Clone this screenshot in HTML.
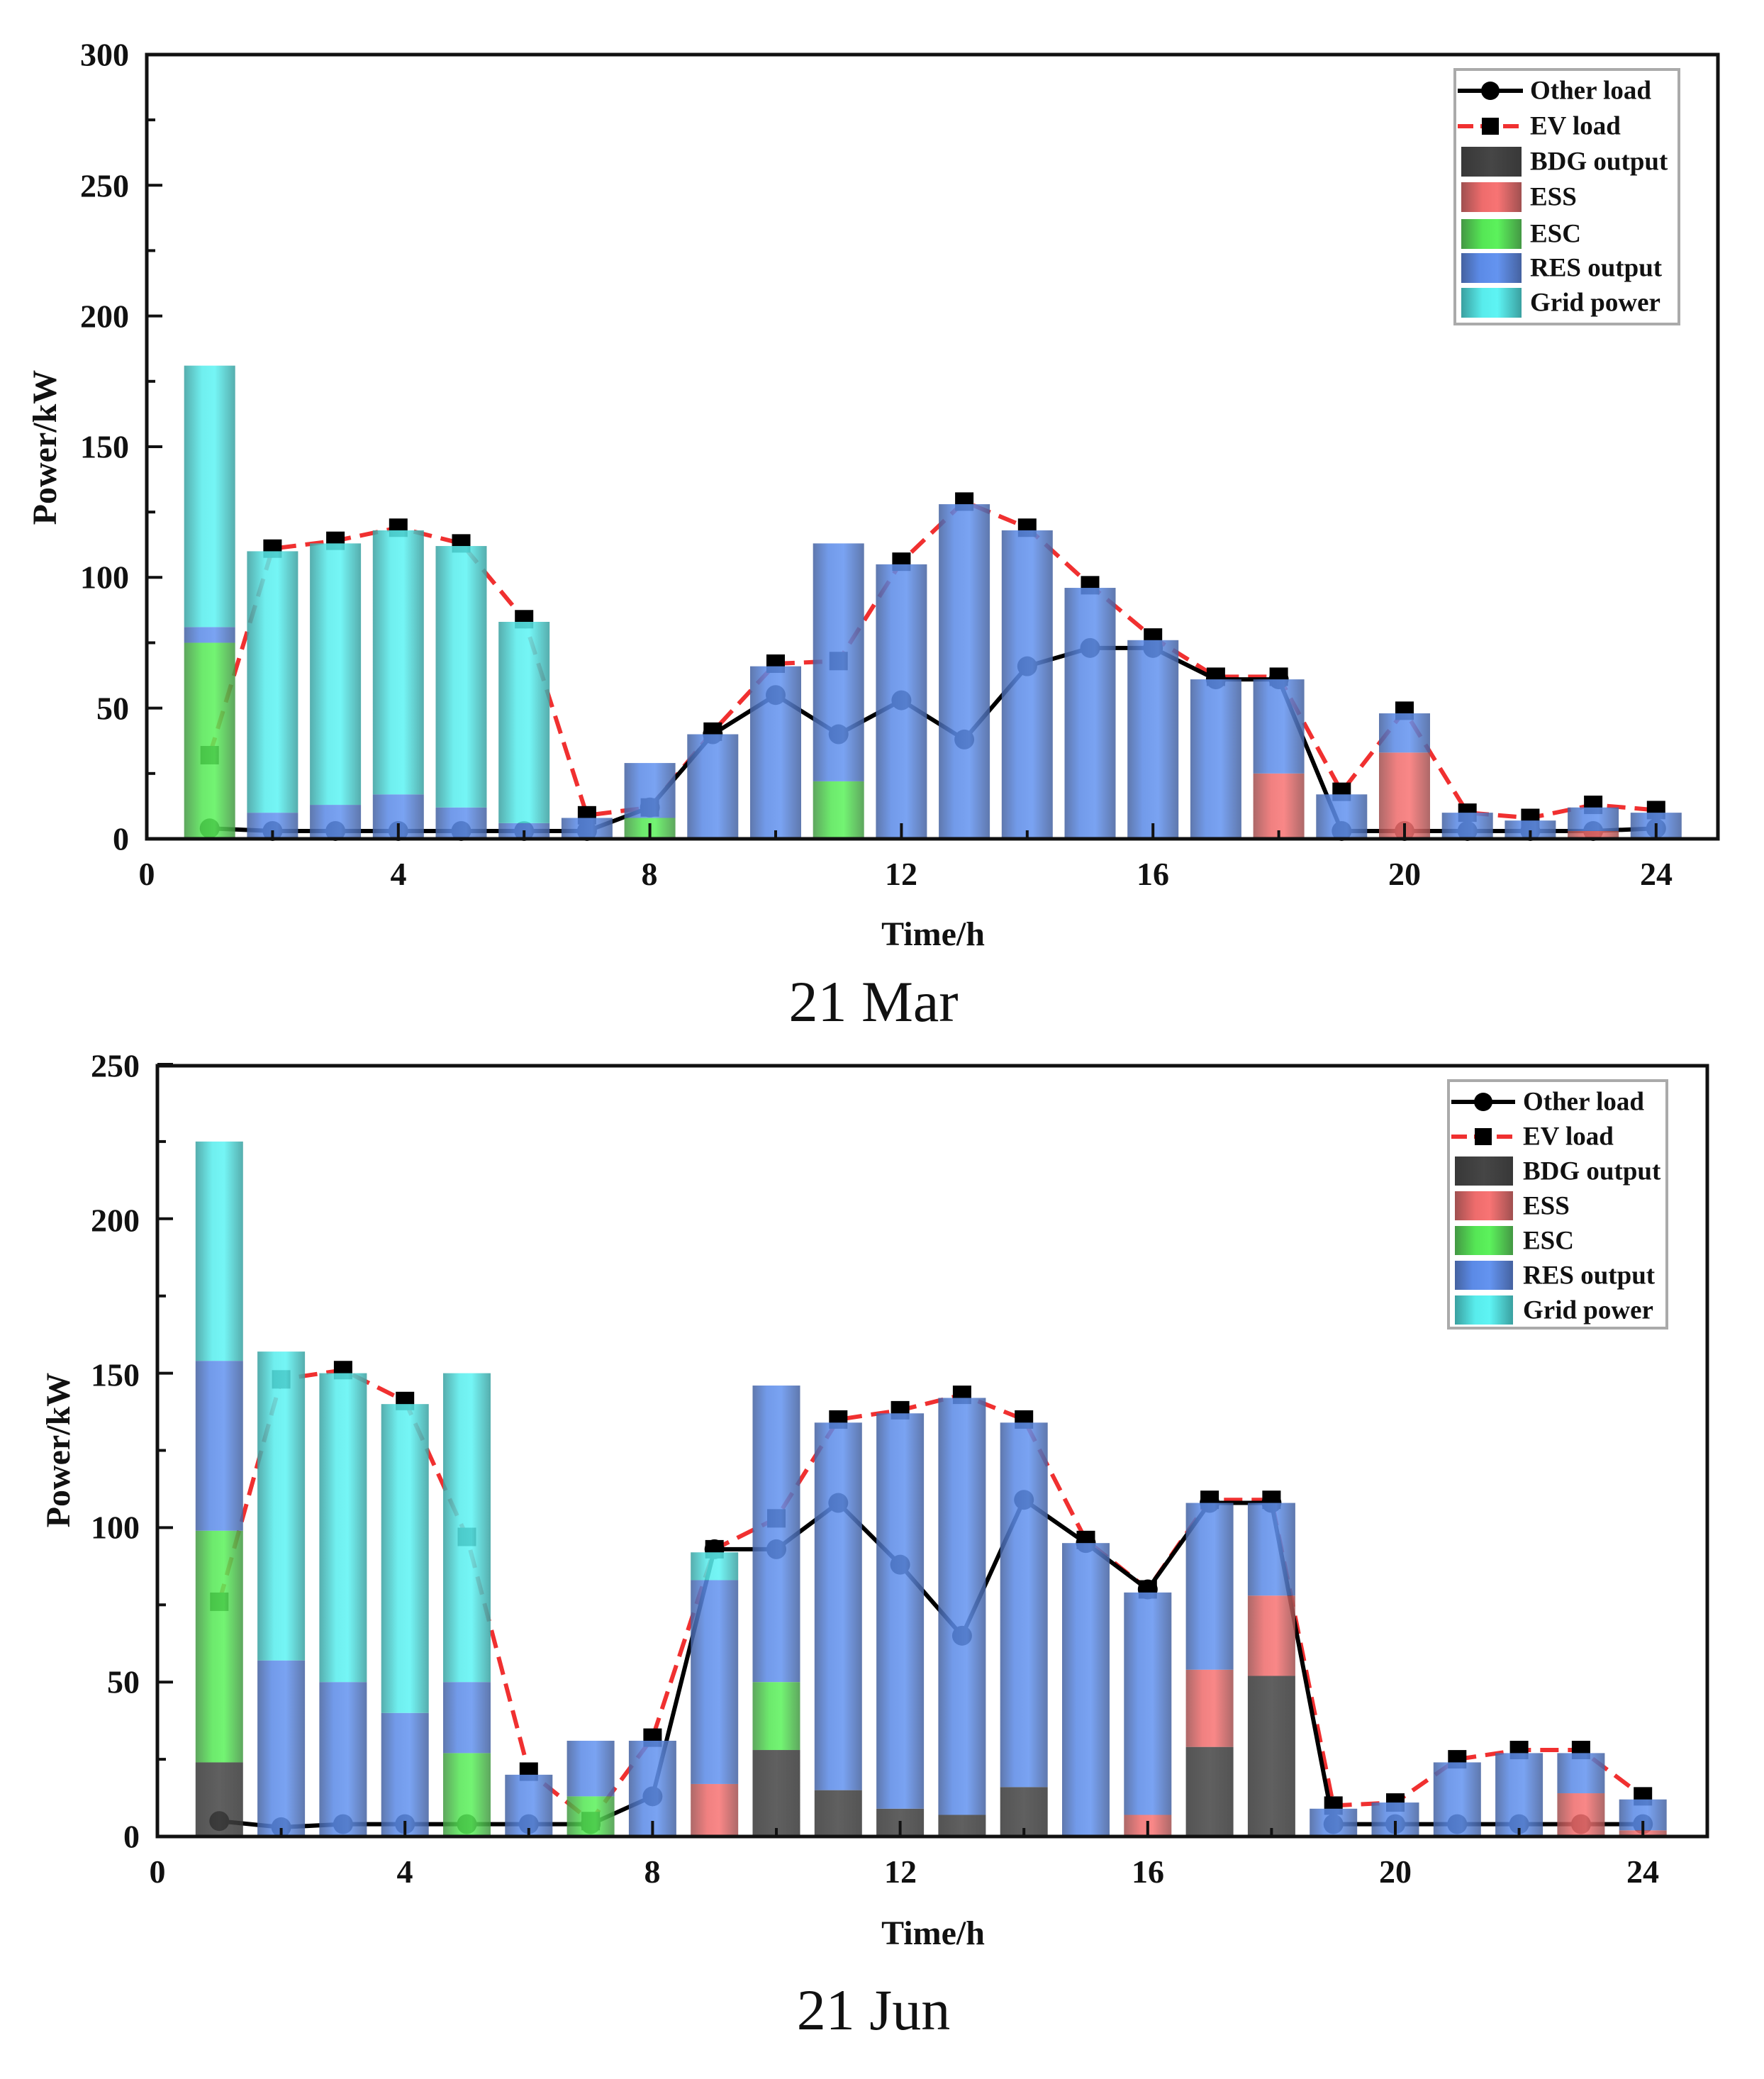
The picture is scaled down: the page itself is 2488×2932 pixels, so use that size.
<!DOCTYPE html>
<html><head><meta charset="utf-8"><style>
html,body{margin:0;padding:0;background:#fff;}
svg{display:block;}
text{font-family:"Liberation Serif",serif;fill:#111;}
.tk{font-size:46px;font-weight:bold;}
.lg{font-size:37px;font-weight:bold;}
.ttl{font-size:82px;}
</style></head><body>
<svg id="s" width="2488" height="2932" viewBox="0 0 2488 2932" xmlns="http://www.w3.org/2000/svg">
<defs>
<linearGradient id="gRES" x1="0" x2="1" y1="0" y2="0"><stop offset="0" stop-color="#4562a0"/><stop offset="0.3" stop-color="#5b8ae6"/><stop offset="0.6" stop-color="#6494f0"/><stop offset="1" stop-color="#4562a0"/></linearGradient>
<linearGradient id="gGRID" x1="0" x2="1" y1="0" y2="0"><stop offset="0" stop-color="#3aa0a0"/><stop offset="0.35" stop-color="#58ecec"/><stop offset="0.6" stop-color="#5ef4f4"/><stop offset="1" stop-color="#3aa0a0"/></linearGradient>
<linearGradient id="gESC" x1="0" x2="1" y1="0" y2="0"><stop offset="0" stop-color="#449844"/><stop offset="0.35" stop-color="#55e655"/><stop offset="0.6" stop-color="#5cf25c"/><stop offset="1" stop-color="#449844"/></linearGradient>
<linearGradient id="gESS" x1="0" x2="1" y1="0" y2="0"><stop offset="0" stop-color="#a05050"/><stop offset="0.35" stop-color="#ee6c6c"/><stop offset="0.6" stop-color="#f87474"/><stop offset="1" stop-color="#a05050"/></linearGradient>
<linearGradient id="gBDG" x1="0" x2="1" y1="0" y2="0"><stop offset="0" stop-color="#383838"/><stop offset="0.5" stop-color="#464646"/><stop offset="1" stop-color="#383838"/></linearGradient>
</defs>
<g id="c1"></g><g id="c2"></g>

<g class="tk" text-anchor="end" dominant-baseline="central">
<text x="182" y="1183">0</text><text x="182" y="999">50</text><text x="182" y="814">100</text>
<text x="182" y="630">150</text><text x="182" y="446">200</text><text x="182" y="262">250</text><text x="182" y="77">300</text>
</g>
<g class="tk" text-anchor="middle">
<text x="207" y="1248">0</text><text x="562" y="1248">4</text><text x="916" y="1248">8</text>
<text x="1271" y="1248">12</text><text x="1626" y="1248">16</text><text x="1981" y="1248">20</text><text x="2336" y="1248">24</text>
</g>
<text class="tk" x="1316" y="1333" text-anchor="middle" style="font-size:48px">Time/h</text>
<text class="tk" transform="translate(79,631) rotate(-90)" text-anchor="middle" style="font-size:48px">Power/kW</text>
<text class="ttl" x="1232" y="1440" text-anchor="middle">21 Mar</text>

<g class="tk" text-anchor="end" dominant-baseline="central">
<text x="197" y="2590">0</text><text x="197" y="2372">50</text><text x="197" y="2154">100</text>
<text x="197" y="1939">150</text><text x="197" y="1721">200</text><text x="197" y="1503">250</text>
</g>
<g class="tk" text-anchor="middle">
<text x="222" y="2655">0</text><text x="571" y="2655">4</text><text x="920" y="2655">8</text>
<text x="1270" y="2655">12</text><text x="1619" y="2655">16</text><text x="1968" y="2655">20</text><text x="2317" y="2655">24</text>
</g>
<text class="tk" x="1316" y="2742" text-anchor="middle" style="font-size:48px">Time/h</text>
<text class="tk" transform="translate(98,2045) rotate(-90)" text-anchor="middle" style="font-size:48px">Power/kW</text>
<text class="ttl" x="1232" y="2862" text-anchor="middle">21 Jun</text>

<g>
<rect x="2052" y="98" width="316" height="359" fill="#fff" stroke="#aaa" stroke-width="4"/>
<line x1="2056" y1="128" x2="2148" y2="128" stroke="#000" stroke-width="6"/><circle cx="2102" cy="128" r="13" fill="#000"/>
<line x1="2056" y1="178" x2="2148" y2="178" stroke="#f03030" stroke-width="6" stroke-dasharray="22 10"/><rect x="2090" y="166" width="24" height="24" fill="#000"/>
<rect x="2061" y="207" width="85" height="42" fill="url(#gBDG)"/>
<rect x="2061" y="257" width="85" height="42" fill="url(#gESS)"/>
<rect x="2061" y="309" width="85" height="42" fill="url(#gESC)"/>
<rect x="2061" y="357" width="85" height="42" fill="url(#gRES)"/>
<rect x="2061" y="406" width="85" height="42" fill="url(#gGRID)"/>
<g class="lg" dominant-baseline="central">
<text x="2158" y="128">Other load</text><text x="2158" y="178">EV load</text><text x="2158" y="228">BDG output</text>
<text x="2158" y="278">ESS</text><text x="2158" y="330">ESC</text><text x="2158" y="378">RES output</text><text x="2158" y="427">Grid power</text>
</g>
</g>
<g>
<rect x="2043" y="1524" width="308" height="349" fill="#fff" stroke="#aaa" stroke-width="4"/>
<line x1="2047" y1="1554" x2="2137" y2="1554" stroke="#000" stroke-width="6"/><circle cx="2092" cy="1554" r="13" fill="#000"/>
<line x1="2047" y1="1603" x2="2137" y2="1603" stroke="#f03030" stroke-width="6" stroke-dasharray="22 10"/><rect x="2080" y="1591" width="24" height="24" fill="#000"/>
<rect x="2052" y="1631" width="82" height="41" fill="url(#gBDG)"/>
<rect x="2052" y="1680" width="82" height="41" fill="url(#gESS)"/>
<rect x="2052" y="1729" width="82" height="41" fill="url(#gESC)"/>
<rect x="2052" y="1778" width="82" height="41" fill="url(#gRES)"/>
<rect x="2052" y="1827" width="82" height="41" fill="url(#gGRID)"/>
<g class="lg" dominant-baseline="central">
<text x="2148" y="1554">Other load</text><text x="2148" y="1603">EV load</text><text x="2148" y="1652">BDG output</text>
<text x="2148" y="1701">ESS</text><text x="2148" y="1750">ESC</text><text x="2148" y="1799">RES output</text><text x="2148" y="1848">Grid power</text>
</g>
</g>
</svg>
<script>
(function(){
var NS="http://www.w3.org/2000/svg";
function el(p,t,a){var e=document.createElementNS(NS,t);for(var k in a)e.setAttribute(k,a[k]);p.appendChild(e);return e;}
function chart(g,cfg){
 var X=function(h){return cfg.x0+h*cfg.dx;}, Y=function(v){return cfg.y0-v*cfg.dy;};
 var pe="",po="";
 cfg.ev.forEach(function(v,i){pe+=(i?"L":"M")+X(i+1)+" "+Y(v)+" ";});
 cfg.ot.forEach(function(v,i){po+=(i?"L":"M")+X(i+1)+" "+Y(v)+" ";});
 el(g,"path",{d:pe,fill:"none",stroke:"#f03030","stroke-width":6,"stroke-dasharray":"26 13"});
 el(g,"path",{d:po,fill:"none",stroke:"#000","stroke-width":6});
 cfg.ev.forEach(function(v,i){el(g,"rect",{x:X(i+1)-13,y:Y(v)-13,width:26,height:26,fill:"#000"});});
 cfg.ot.forEach(function(v,i){el(g,"circle",{cx:X(i+1),cy:Y(v),r:14,fill:"#000"});});
 var names=["BDG","ESS","ESC","RES","GRID"];
 cfg.bars.forEach(function(b,i){
  var prev=0;
  for(var k=0;k<5;k++){var top=b[k]; if(top>prev){el(g,"rect",{x:X(i+1)-cfg.bw/2,y:Y(top),width:cfg.bw,height:(top-prev)*cfg.dy,fill:"url(#g"+names[k]+")",opacity:0.86}); prev=top;}}
 });
 el(g,"rect",{x:cfg.x0,y:cfg.top,width:cfg.right-cfg.x0,height:cfg.y0-cfg.top,fill:"none",stroke:"#111","stroke-width":5});
 for(var v=0;v<=cfg.ymax;v+=25){var y=Y(v);var L=(v%50==0)?22:12;el(g,"line",{x1:cfg.x0,y1:y,x2:cfg.x0+L,y2:y,stroke:"#111","stroke-width":4});}
 for(var h=0;h<=24;h+=2){var x=X(h);var L=(h%4==0)?22:12;el(g,"line",{x1:x,y1:cfg.y0,x2:x,y2:cfg.y0-L,stroke:"#111","stroke-width":4});}
}
var m=[[0,0,75,81,181],[0,0,0,10,110],[0,0,0,13,113],[0,0,0,17,118],[0,0,0,12,112],[0,0,0,6,83],[0,0,0,8,8],[0,0,8,29,29],[0,0,0,40,40],[0,0,0,66,66],[0,0,22,113,113],[0,0,0,105,105],[0,0,0,128,128],[0,0,0,118,118],[0,0,0,96,96],[0,0,0,76,76],[0,0,0,61,61],[0,25,25,61,61],[0,0,0,17,17],[0,33,33,48,48],[0,0,0,10,10],[0,0,0,7,7],[0,3,3,12,12],[0,0,0,10,10]];
chart(document.getElementById("c1"),{x0:207,dx:88.7,y0:1183,dy:3.687,top:77,right:2423,ymax:300,bw:72,bars:m,
 ev:[32,111,114,119,113,84,9,12,41,67,68,106,129,119,97,77,62,62,18,49,10,8,13,11],
 ot:[4,3,3,3,3,3,3,12,40,55,40,53,38,66,73,73,61,61,3,3,3,3,3,4]});
var j=[[24,24,99,154,225],[0,0,0,57,157],[0,0,0,50,150],[0,0,0,40,140],[0,0,27,50,150],[0,0,0,20,20],[0,0,13,31,31],[0,0,0,31,31],[0,17,17,83,92],[28,28,50,146,146],[15,15,15,134,134],[9,9,9,137,137],[7,7,7,142,142],[16,16,16,134,134],[0,0,0,95,95],[0,7,7,79,79],[29,54,54,108,108],[52,78,78,108,108],[0,0,0,9,9],[0,0,0,11,11],[0,0,0,24,24],[0,0,0,27,27],[0,14,14,27,27],[0,2,2,12,12]];
chart(document.getElementById("c2"),{x0:222,dx:87.3,y0:2590,dy:4.356,top:1503,right:2408,ymax:250,bw:67,bars:j,
 ev:[76,148,151,141,97,21,5,32,93,103,135,138,143,135,96,80,109,109,10,11,25,28,28,13],
 ot:[5,3,4,4,4,4,4,13,93,93,108,88,65,109,95,80,108,108,4,4,4,4,4,4]});
})();
</script>
</body></html>
